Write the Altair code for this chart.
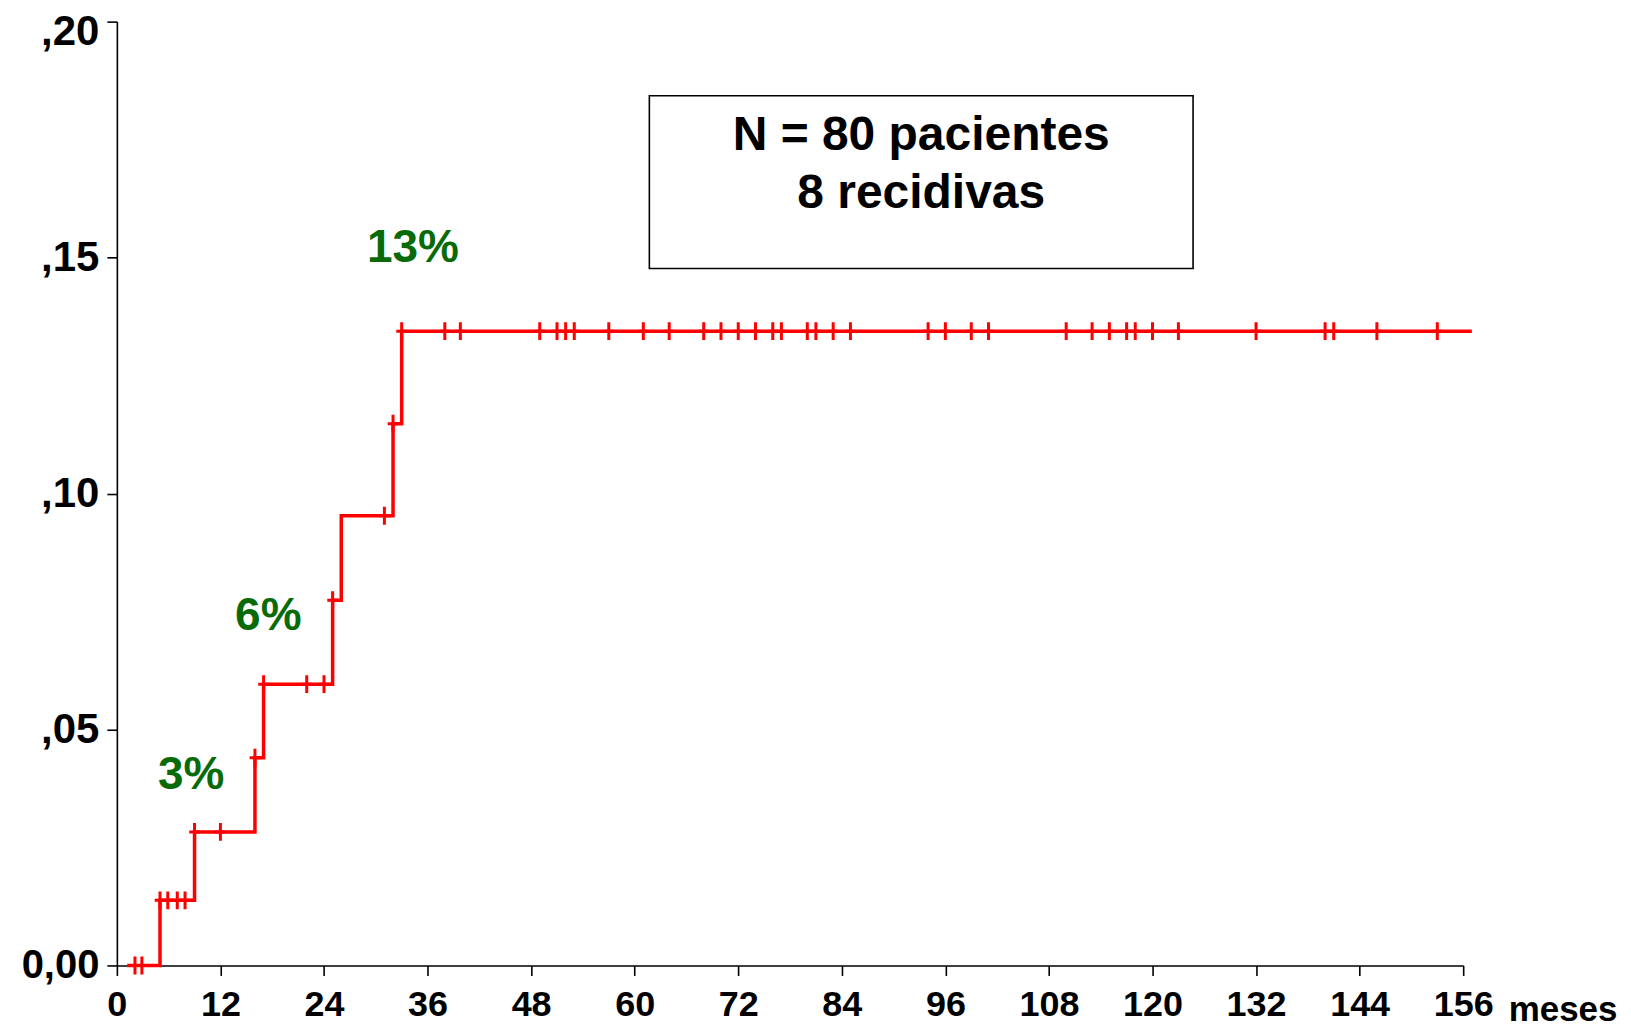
import altair as alt
import pandas as pd

# Step curve (cumulative incidence of relapse) : time in months, value
event_times = [1.2, 5, 9, 16, 17, 25, 26, 32, 33, 157]
event_values = [0.0, 0.0138, 0.0283, 0.0440, 0.0596, 0.0774, 0.0953, 0.1148, 0.1344, 0.1344]

# Censored observations (months)
censor_times = [2.1, 2.9, 5, 5.9, 7, 7.9, 9, 12, 16, 17, 22, 24, 25, 31, 32, 33,
                38, 39.8, 49, 51, 52, 53, 57, 61, 64, 68, 70, 72, 74, 76, 77,
                80, 81, 83, 85, 94, 96, 99, 101, 110, 113, 115, 117, 118, 120,
                123, 132, 140, 141, 146, 153]

# Percent annotations
pct_labels = ["3%", "6%", "13%"]
pct_t = [8.6, 17.55, 34.3]
pct_v = [0.0404, 0.0741, 0.152]

# Info box
box_lines = ["N = 80 pacientes", "8 recidivas"]
box_line_t = [93.2, 93.2]
box_line_v = [0.1757, 0.1635]
box_t = [61.7]
box_t2 = [124.7]
box_v = [0.1843]
box_v2 = [0.1477]

x_ticks = list(range(0, 157, 12))
y_ticks = [0.0, 0.05, 0.10, 0.15, 0.20]


def level_at(t):
    val = event_values[0]
    for et, ev in zip(event_times, event_values):
        if et <= t:
            val = ev
    return val


line_df = pd.DataFrame({"t": event_times, "v": event_values})
cens_df = pd.DataFrame({"t": censor_times, "v": [level_at(t) for t in censor_times]})
pct_df = pd.DataFrame({"t": pct_t, "v": pct_v, "label": pct_labels})
boxtxt_df = pd.DataFrame({"t": box_line_t, "v": box_line_v, "label": box_lines})
box_df = pd.DataFrame({"t": box_t, "t2": box_t2, "v": box_v, "v2": box_v2})

FONT = "Liberation Sans"

x_scale = alt.Scale(domain=[0, 156], nice=False, zero=False)
y_scale = alt.Scale(domain=[0, 0.2], nice=False)

x_axis = alt.Axis(
    values=x_ticks, grid=False, title="meses",
    domainColor="black", domainWidth=1.6, tickColor="black", tickWidth=1.6, tickSize=10,
    labelFont=FONT, labelFontSize=36, labelFontWeight="bold", labelColor="black",
    labelPadding=12, labelFlush=False, labelOverlap=False,
    titleFont=FONT, titleFontSize=35, titleFontWeight="bold", titleColor="black",
    titleX=1393, titleY=55, titleAlign="left", titleBaseline="alphabetic", titleAnchor="start",
)
y_axis = alt.Axis(
    values=y_ticks, grid=False, title=None,
    labelExpr="datum.value == 0 ? '0,00' : ',' + substring(format(datum.value, '.2f'), 2)",
    domainColor="black", domainWidth=1.6, tickColor="black", tickWidth=1.6, tickSize=10,
    labelFont=FONT,
    labelFontSize={"condition": {"test": "datum.value == 0", "value": 40}, "value": 42},
    labelOffset={"condition": {"test": "datum.value >= 0.2", "value": 10}, "value": 0},
    labelFontWeight="bold", labelColor="black", labelPadding=8, labelFlush=False,
    labelOverlap=False,
)

X = alt.X("t:Q", scale=x_scale, axis=x_axis)
Y = alt.Y("v:Q", scale=y_scale, axis=y_axis)

box = alt.Chart(box_df).mark_rect(fill="white", stroke="black", strokeWidth=1.6).encode(
    x=X, x2="t2:Q", y=Y, y2="v2:Q"
)

line = alt.Chart(line_df).mark_line(interpolate="step-after", color="#ff0000", strokeWidth=3.5).encode(
    x=X, y=Y
)

cens = alt.Chart(cens_df).mark_point(
    shape="M0,-1L0,1M-0.6,0L0.6,0", filled=False, stroke="#ff0000", strokeWidth=3,
    size=320, opacity=1,
).encode(x=X, y=Y)

pct = alt.Chart(pct_df).mark_text(
    font=FONT, fontSize=46, fontWeight="bold", color="#086b08", align="center", baseline="middle"
).encode(x=X, y=Y, text="label:N")

boxtxt = alt.Chart(boxtxt_df).mark_text(
    font=FONT, fontSize=48, fontWeight="bold", color="black", align="center", baseline="middle"
).encode(x=X, y=Y, text="label:N")

chart = alt.layer(box, line, cens, pct, boxtxt).properties(
    width=1348,
    height=945,
    autosize=alt.AutoSizeParams(type="none"),
    padding={"left": 109, "top": 13, "right": 160, "bottom": 62},
).configure_view(stroke=None)

chart.save("out.html", embed_options={"renderer": "svg", "actions": False})
